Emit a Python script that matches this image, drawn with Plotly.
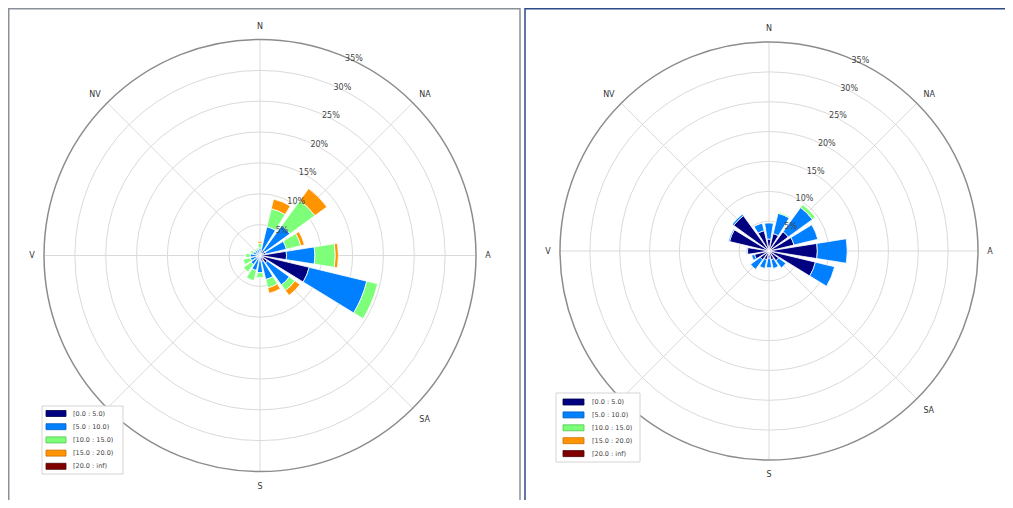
import plotly.graph_objects as go

# ---------------- data ----------------
directions = [0, 22.5, 45, 67.5, 90, 112.5, 135, 157.5,
              180, 202.5, 225, 247.5, 270, 292.5, 315, 337.5]
compass_vals = [0, 45, 90, 135, 180, 225, 270, 315]
compass_text = ["N", "NA", "A", "SA", "S", "", "V", "NV"]

bins = ["[0.0 : 5.0)", "[5.0 : 10.0)", "[10.0 : 15.0)", "[15.0 : 20.0)", "[20.0 : inf)"]
bin_colors = ["#000080", "#0080ff", "#7dff7a", "#ff9400", "#800000"]
bin_edges = ["#00004a", "#0060c0", "#4ec84b", "#c87000", "#4a0000"]

r_ticks = [5, 10, 15, 20, 25, 30, 35]
r_text = ["5%", "10%", "15%", "20%", "25%", "30%", "35%"]

# left rose: frequency (%) per speed bin, per direction (N .. NNW)
left_b0 = [0.5, 0.8, 1.0, 1.0, 4.3, 8.2, 1.5, 1.0, 0.8, 0.6, 0.6, 0.5, 0.5, 0.4, 0.4, 0.4]
left_b1 = [0.7, 4.0, 5.0, 3.4, 4.6, 9.6, 4.4, 3.0, 2.0, 1.9, 1.2, 1.1, 1.1, 0.8, 0.6, 0.6]
left_b2 = [0.8, 3.0, 5.0, 2.4, 3.3, 1.8, 1.1, 1.4, 0.8, 1.7, 1.5, 1.2, 0.7, 0.4, 0.2, 0.3]
left_b3 = [0.3, 1.6, 2.4, 0.6, 0.5, 0.0, 1.0, 0.9, 0.0, 0.0, 0.0, 0.0, 0.0, 0.0, 0.0, 0.0]
left_b4 = [0.0] * 16

# right rose
right_b0 = [2.0, 3.0, 4.0, 4.3, 8.1, 8.0, 2.0, 1.5, 1.2, 1.5, 1.8, 2.5, 3.6, 6.8, 7.3, 3.5]
right_b1 = [2.7, 3.5, 5.0, 4.1, 5.0, 3.3, 1.5, 1.5, 1.6, 1.5, 2.0, 0.5, 0.2, 0.2, 0.3, 1.3]
right_b2 = [0.0, 0.2, 0.6, 0.0, 0.0, 0.0, 0.0, 0.0, 0.0, 0.0, 0.0, 0.0, 0.0, 0.0, 0.0, 0.0]
right_b3 = [0.0] * 16
right_b4 = [0.0] * 16

left_series = [left_b0, left_b1, left_b2, left_b3, left_b4]
right_series = [right_b0, right_b1, right_b2, right_b3, right_b4]

# ---------------- figure ----------------
# the page body has an 8px margin, so the figure is placed at (8, 8)
OFF = 8
FW, FH = 997, 492
FONT = "DejaVu Sans"


def px(x):
    return (x - OFF) / FW


def py(y):
    return 1 - (y - OFF) / FH


fig = go.Figure()

for subplot, series in [("polar", left_series), ("polar2", right_series)]:
    for name, color, vals in zip(bins, bin_colors, series):
        fig.add_trace(go.Barpolar(
            r=vals, theta=directions, width=18,
            name=name, marker=dict(color=color, line=dict(color="white", width=0.8)),
            subplot=subplot, showlegend=False, hoverinfo="skip"))


def polar_cfg(cx, cy, rad):
    return dict(
        domain=dict(x=[px(cx - rad), px(cx + rad)],
                    y=[py(cy + rad), py(cy - rad)]),
        bgcolor="white",
        barmode="stack",
        radialaxis=dict(range=[0, 35], tickvals=r_ticks, ticktext=r_text,
                        angle=68, tickangle=68, showline=False, ticks="",
                        gridcolor="#dadada", gridwidth=1,
                        tickfont=dict(family=FONT, size=8, color="#444444"),
                        layer="above traces"),
        angularaxis=dict(rotation=90, direction="clockwise",
                         tickmode="array", tickvals=compass_vals, ticktext=compass_text,
                         showline=True, linecolor="#8c8c8c", linewidth=1.5,
                         gridcolor="#dadada", gridwidth=1,
                         ticks="outside", ticklen=7, tickcolor="rgba(0,0,0,0)",
                         tickfont=dict(family=FONT, size=8, color="#333333"),
                         layer="above traces"),
    )


shapes = [
    # panel frames
    dict(type="rect", xref="paper", yref="paper",
         x0=px(8.75), x1=px(520), y0=-0.05, y1=py(8.75),
         line=dict(color="#8a9099", width=1.5), layer="below"),
    dict(type="rect", xref="paper", yref="paper",
         x0=px(525), x1=1.05, y0=-0.05, y1=py(8.75),
         line=dict(color="#2b4a8a", width=1.5), layer="below"),
]
annotations = []


def add_legend(x0, y0, x1, y1, first_y, step, sym_x0, sym_x1, text_x):
    shapes.append(dict(type="rect", xref="paper", yref="paper",
                       x0=px(x0), x1=px(x1), y0=py(y1), y1=py(y0),
                       fillcolor="white", line=dict(color="#d4d4d4", width=1)))
    for i, (name, color, edge) in enumerate(zip(bins, bin_colors, bin_edges)):
        yc = first_y + i * step
        shapes.append(dict(type="rect", xref="paper", yref="paper",
                           x0=px(sym_x0), x1=px(sym_x1), y0=py(yc + 3), y1=py(yc - 3),
                           fillcolor=color, line=dict(color=edge, width=0.8)))
        annotations.append(dict(xref="paper", yref="paper", x=px(text_x), y=py(yc),
                                text=name, showarrow=False, xanchor="left", yanchor="middle",
                                font=dict(family=FONT, size=6.5, color="#444444")))


add_legend(42, 406, 123, 474, 413.5, 13.2, 46, 66, 71)
add_legend(556, 393, 640, 462, 402, 12.9, 563, 584, 590)

fig.update_layout(
    width=FW, height=FH,
    margin=dict(l=0, r=0, t=0, b=0),
    paper_bgcolor="white",
    showlegend=False,
    polar=polar_cfg(260, 255.5, 216),
    polar2=polar_cfg(769, 251, 209),
    shapes=shapes,
    annotations=annotations,
)

fig.write_html("out.html")
